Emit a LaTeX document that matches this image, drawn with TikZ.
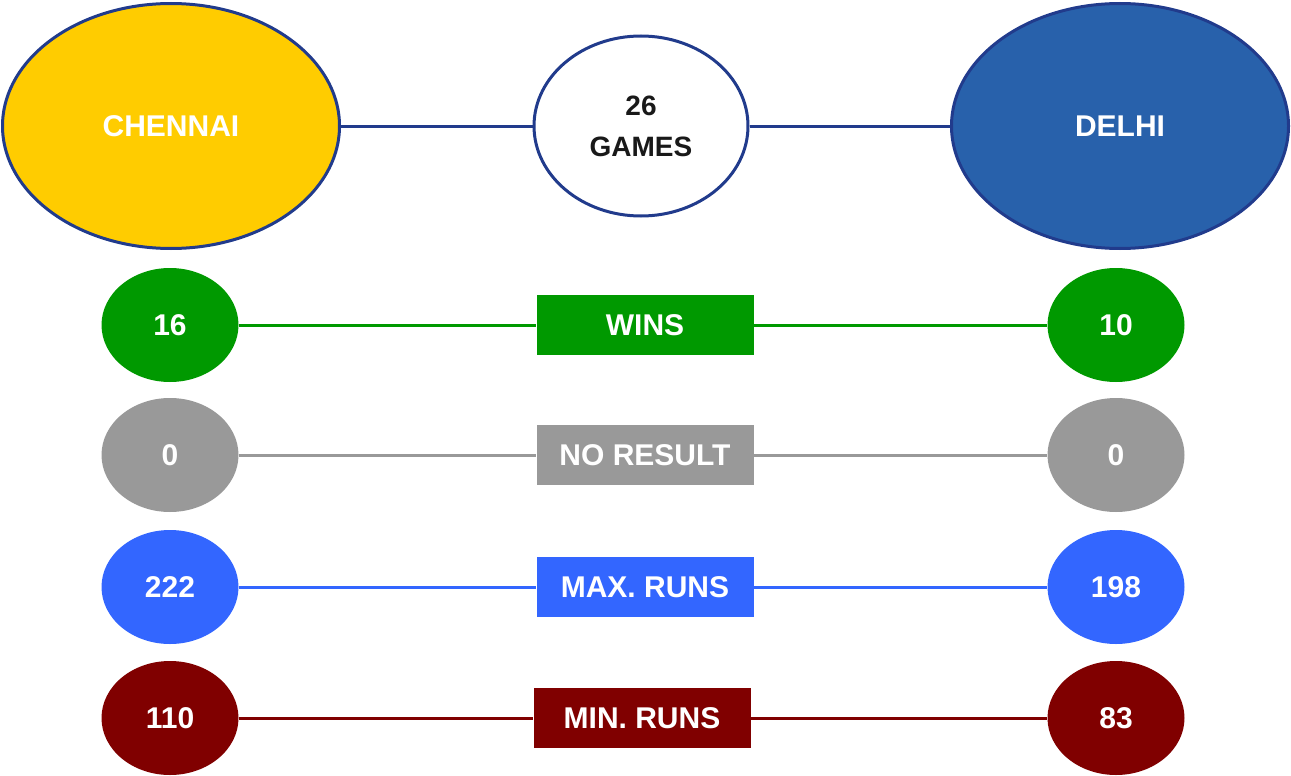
\documentclass[tikz,border=0pt]{standalone}
\usepackage{fontspec}
\setmainfont{Liberation Sans}
\usetikzlibrary{shapes.geometric}
\definecolor{navy}{HTML}{213B8C}
\definecolor{csk}{HTML}{FFCC00}
\definecolor{dd}{HTML}{2861AB}
\definecolor{wingreen}{HTML}{009900}
\definecolor{nrgrey}{HTML}{999999}
\definecolor{maxblue}{HTML}{3366FF}
\definecolor{minred}{HTML}{800000}
\begin{document}
\begin{tikzpicture}[x=1pt, y=-1pt, line join=round,
  team/.style={ellipse, draw=navy, line width=3pt, inner sep=0pt, minimum width=337pt, minimum height=245pt, text=white, font=\fontsize{30}{36}\selectfont\bfseries},
  stat/.style={ellipse, fill=#1, inner sep=0pt, minimum width=137pt, minimum height=114pt, text=white, font=\fontsize{30}{36}\selectfont\bfseries},
  label box/.style={rectangle, fill=#1, inner sep=0pt, minimum width=217pt, minimum height=60pt, text=white, font=\fontsize{30}{36}\selectfont\bfseries},
  link/.style={line width=3pt, #1}]
\useasboundingbox (0,0) rectangle (1291,776);
% heading row
\node[team, fill=csk] (chennai) at (171,126) {CHENNAI};
\node[team, fill=dd] (delhi) at (1120,126) {DELHI};
\node[ellipse, draw=navy, fill=white, line width=3pt, inner sep=0pt, minimum width=214pt, minimum height=180pt, align=center, text=black!90, font=\fontsize{28}{41}\selectfont\bfseries] (games) at (641,126) {26\\GAMES};
\draw[link=navy] (chennai)--(games) (games)--(delhi);
% wins
\node[stat=wingreen] (winsC) at (170,325) {16};
\node[label box=wingreen] (wins) at (645,325) {WINS};
\node[stat=wingreen] (winsD) at (1116,325) {10};
\draw[link=wingreen] (winsC)--(wins) (wins)--(winsD);
% no result
\node[stat=nrgrey] (nrC) at (170,455) {0};
\node[label box=nrgrey] (nr) at (645,455) {NO RESULT};
\node[stat=nrgrey] (nrD) at (1116,455) {0};
\draw[link=nrgrey] (nrC)--(nr) (nr)--(nrD);
% max runs
\node[stat=maxblue] (maxC) at (170,587) {222};
\node[label box=maxblue] (max) at (645,587) {MAX. RUNS};
\node[stat=maxblue] (maxD) at (1116,587) {198};
\draw[link=maxblue] (maxC)--(max) (max)--(maxD);
% min runs
\node[stat=minred] (minC) at (170,718) {110};
\node[label box=minred] (min) at (642,718) {MIN. RUNS};
\node[stat=minred] (minD) at (1116,718) {83};
\draw[link=minred] (minC)--(min) (min)--(minD);
\end{tikzpicture}
\end{document}
